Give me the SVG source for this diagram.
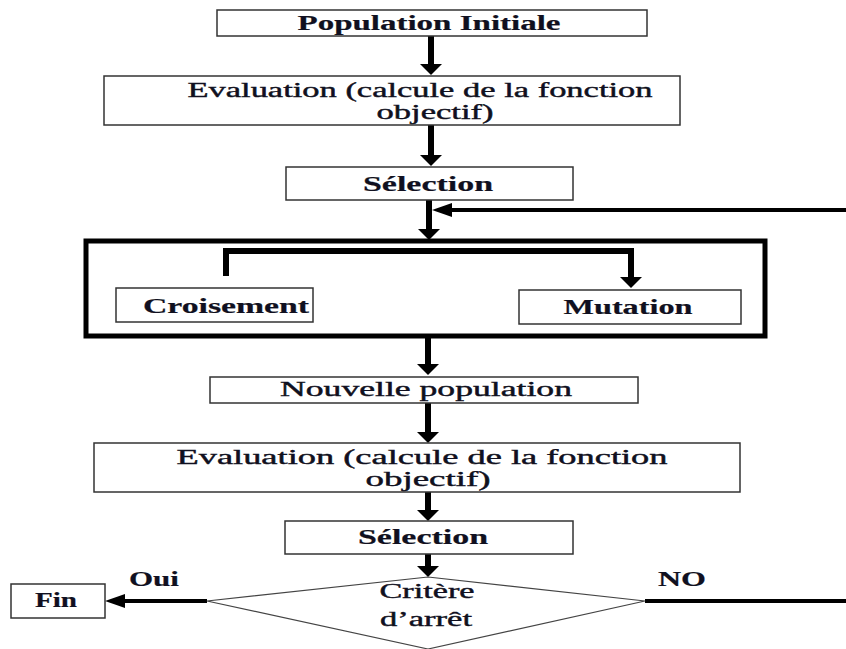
<svg xmlns="http://www.w3.org/2000/svg" width="846" height="649" viewBox="0 0 846 649">
  <style>
    .box { fill: #ffffff; stroke: #333333; stroke-width: 1.5; }
    .frame { fill: none; stroke: #000000; stroke-width: 5; }
    .diamond { fill: #ffffff; stroke: #444444; stroke-width: 1.2; }
    .lbl { font-family: "Liberation Serif", "Times New Roman", serif; font-size: 20px; fill: #101020; stroke: #101020; stroke-width: 0.4; text-anchor: middle; }
    .b { font-weight: bold; stroke-width: 0.2; }
    .link { fill: none; stroke: #000000; stroke-width: 6; }
    .thin { stroke-width: 4; }
  </style>
  <defs>
    <!-- heavy arrowhead for the vertical flow -->
    <marker id="head" viewBox="0 0 11 22" refX="0" refY="11" markerWidth="11" markerHeight="22" orient="auto" markerUnits="userSpaceOnUse">
      <path d="M0,0 L11,11 L0,22 z" fill="#000000"/>
    </marker>
    <!-- slimmer arrowhead for the horizontal links -->
    <marker id="head-h" viewBox="0 0 20 14" refX="0" refY="7" markerWidth="20" markerHeight="14" orient="auto" markerUnits="userSpaceOnUse">
      <path d="M0,0 L20,7 L0,14 z" fill="#000000"/>
    </marker>
  </defs>
  <rect width="846" height="649" fill="#ffffff"/>

  <g id="connectors">
    <line class="link" x1="431" y1="36" x2="431" y2="64" marker-end="url(#head)"/>
    <line class="link" x1="431" y1="125" x2="431" y2="155" marker-end="url(#head)"/>
    <line class="link" x1="429" y1="200" x2="429" y2="229" marker-end="url(#head)"/>
    <line class="link thin" x1="846" y1="210" x2="452" y2="210" marker-end="url(#head-h)"/>
    <polyline class="link" points="226,276 226,251 631,251 631,277" marker-end="url(#head)"/>
    <line class="link" x1="428" y1="336" x2="428" y2="364" marker-end="url(#head)"/>
    <line class="link" x1="428" y1="403" x2="428" y2="432" marker-end="url(#head)"/>
    <line class="link" x1="428" y1="492" x2="428" y2="510" marker-end="url(#head)"/>
    <line class="link" x1="428" y1="554" x2="428" y2="566" marker-end="url(#head)"/>
    <line class="link thin" x1="207" y1="601" x2="125" y2="601" marker-end="url(#head-h)"/>
    <line class="link thin" x1="645" y1="601" x2="846" y2="601"/>
    <text class="lbl b" x="154" y="586" textLength="50" lengthAdjust="spacingAndGlyphs">Oui</text>
    <text class="lbl b" x="682" y="586" textLength="48" lengthAdjust="spacingAndGlyphs">NO</text>
  </g>

  <g id="population-initiale">
    <rect class="box" x="217" y="10" width="430" height="26"/>
    <text class="lbl b" x="429" y="30" textLength="263" lengthAdjust="spacingAndGlyphs">Population Initiale</text>
  </g>

  <g id="evaluation-1">
    <rect class="box" x="104" y="76" width="576" height="49"/>
    <text class="lbl" x="420" y="97" textLength="465" lengthAdjust="spacingAndGlyphs">Evaluation (calcule de la fonction</text>
    <text class="lbl" x="435" y="119" textLength="117" lengthAdjust="spacingAndGlyphs">objectif)</text>
  </g>

  <g id="selection-1">
    <rect class="box" x="286" y="167" width="287" height="33"/>
    <text class="lbl b" x="428" y="191" textLength="130" lengthAdjust="spacingAndGlyphs">Sélection</text>
  </g>

  <g id="operators">
    <rect class="frame" x="86" y="241" width="679" height="95"/>
  </g>

  <g id="croisement">
    <rect class="box" x="116" y="288" width="197" height="34"/>
    <text class="lbl b" x="226" y="313" textLength="166" lengthAdjust="spacingAndGlyphs">Croisement</text>
  </g>

  <g id="mutation">
    <rect class="box" x="519" y="290" width="222" height="34"/>
    <text class="lbl b" x="628" y="314" textLength="129" lengthAdjust="spacingAndGlyphs">Mutation</text>
  </g>

  <g id="nouvelle-population">
    <rect class="box" x="210" y="377" width="428" height="26"/>
    <text class="lbl" x="426" y="396" textLength="292" lengthAdjust="spacingAndGlyphs">Nouvelle population</text>
  </g>

  <g id="evaluation-2">
    <rect class="box" x="94" y="443" width="646" height="49"/>
    <text class="lbl" x="422" y="464" textLength="491" lengthAdjust="spacingAndGlyphs">Evaluation (calcule de la fonction</text>
    <text class="lbl" x="428" y="486" textLength="125" lengthAdjust="spacingAndGlyphs">objectif)</text>
  </g>

  <g id="selection-2">
    <rect class="box" x="285" y="521" width="288" height="33"/>
    <text class="lbl b" x="423" y="544" textLength="130" lengthAdjust="spacingAndGlyphs">Sélection</text>
  </g>

  <g id="critere-arret">
    <polygon class="diamond" points="428,577 645,601 428,649 207,601"/>
    <text class="lbl" x="427" y="598" textLength="95" lengthAdjust="spacingAndGlyphs">Critère</text>
    <text class="lbl" x="426" y="626" textLength="92" lengthAdjust="spacingAndGlyphs">d’arrêt</text>
  </g>

  <g id="fin">
    <rect class="box" x="11" y="584" width="94" height="34"/>
    <text class="lbl b" x="56" y="607" font-size="17" textLength="42" lengthAdjust="spacingAndGlyphs">Fin</text>
  </g>
</svg>
